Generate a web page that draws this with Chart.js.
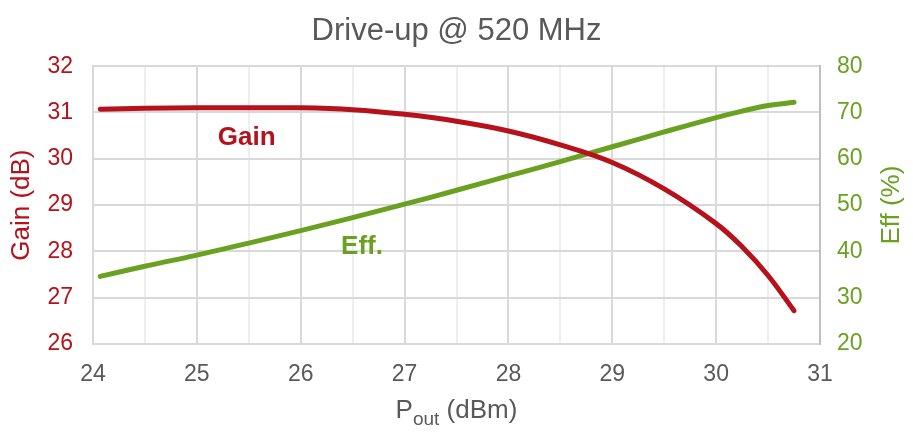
<!DOCTYPE html>
<html>
<head>
<meta charset="utf-8">
<script src="https://cdn.jsdelivr.net/npm/chart.js@4"></script>
<style>
  html, body { margin: 0; padding: 0; background: #fff; }
  #wrap { width: 913px; height: 432px; }
</style>
</head>
<body>
<div id="wrap"><canvas id="chart1"></canvas></div>
<script>
  const pout = [24.07, 24.5, 25, 25.5, 26, 26.5, 27, 27.5, 28, 28.5, 29, 29.5, 30, 30.25, 30.5, 30.75];
  const gain = [31.07, 31.09, 31.1, 31.1, 31.1, 31.06, 30.96, 30.81, 30.60, 30.30, 29.92, 29.35, 28.60, 28.10, 27.48, 26.72];
  const eff = [34.6, 36.8, 39.2, 41.8, 44.5, 47.3, 50.2, 53.2, 56.3, 59.4, 62.6, 65.8, 68.9, 70.3, 71.5, 72.2];

  const RED = '#B5121B';
  const GREEN = '#6AA121';
  const GREY = '#595959';
  const FONT = "'Liberation Sans', Arial, sans-serif";

  // series labels, x title with subscript, right title read bottom-up
  const labelsPlugin = {
    id: 'labels',
    afterDraw(chart) {
      const c = chart.ctx;
      const x = chart.scales.x, yg = chart.scales.y, ye = chart.scales.y2;
      const area = chart.chartArea;
      c.save();
      c.textAlign = 'center';
      c.textBaseline = 'middle';
      c.font = 'bold 26px ' + FONT;
      c.fillStyle = RED;
      c.fillText('Gain', x.getPixelForValue(25.48), yg.getPixelForValue(30.45));
      c.fillStyle = GREEN;
      c.fillText('Eff.', x.getPixelForValue(26.59), ye.getPixelForValue(41.0));

      // Eff (%) on the right, rotated like the left title
      c.save();
      c.translate(892, (area.top + area.bottom) / 2);
      c.rotate(-Math.PI / 2);
      c.font = '26px ' + FONT;
      c.fillText('Eff (%)', 0, 0);
      c.restore();

      // P_out (dBm)
      c.fillStyle = GREY;
      c.textAlign = 'left';
      c.textBaseline = 'alphabetic';
      const big = '26px ' + FONT, small = '19px ' + FONT;
      c.font = big; const wP = c.measureText('P').width;
      c.font = small; const wS = c.measureText('out').width;
      c.font = big; const wR = c.measureText(' (dBm)').width;
      let cx = (area.left + area.right) / 2 - (wP + wS + wR) / 2;
      const base = 418;
      c.font = big; c.fillText('P', cx, base); cx += wP;
      c.font = small; c.fillText('out', cx, base + 7); cx += wS;
      c.font = big; c.fillText(' (dBm)', cx, base);
      c.restore();
    }
  };

  const ctx = document.getElementById('chart1').getContext('2d');

  const chart1 = new Chart(ctx, {
    type: 'line',
    data: {
      labels: pout,
      datasets: [{
        label: 'Gain',
        data: pout.map((p, i) => ({ x: p, y: gain[i] })),
        borderColor: RED,
        borderWidth: 5,
        borderCapStyle: 'round',
        pointRadius: 0,
        tension: 0.4,
        yAxisID: 'y'
      }, {
        label: 'Eff.',
        data: pout.map((p, i) => ({ x: p, y: eff[i] })),
        borderColor: GREEN,
        borderWidth: 5,
        borderCapStyle: 'round',
        pointRadius: 0,
        tension: 0.4,
        yAxisID: 'y2'
      }]
    },
    options: {
      responsive: true,
      maintainAspectRatio: false,
      animation: false,
      layout: { padding: 0 },
      plugins: {
        legend: { display: false },
        tooltip: { enabled: false },
        title: {
          display: true,
          text: 'Drive-up @ 520 MHz',
          color: GREY,
          font: { family: FONT, size: 31, weight: 'normal' },
          padding: { top: 13, bottom: 16 }
        }
      },
      scales: {
        x: {
          type: 'linear',
          min: 24,
          max: 31,
          afterFit(s) { s.height = 88; },
          ticks: {
            stepSize: 0.5,
            color: GREY,
            padding: 17,
            maxRotation: 0,
            autoSkip: false,
            font: { family: FONT, size: 23 },
            callback: v => Number.isInteger(v) ? v : ''
          },
          grid: {
            drawTicks: false,
            color: c => Number.isInteger(c.tick.value) ? '#D9D9D9' : '#EEEEEE',
            lineWidth: 2
          },
          border: { color: '#D9D9D9', width: 2 }
        },
        y: {
          position: 'left',
          min: 26,
          max: 32,
          afterFit(s) { s.width = 93; },
          ticks: {
            stepSize: 1,
            color: RED,
            padding: 20,
            font: { family: FONT, size: 23 }
          },
          grid: { drawTicks: false, color: '#D9D9D9', lineWidth: 2 },
          border: { color: '#D9D9D9', width: 2 },
          title: {
            display: true,
            text: 'Gain (dB)',
            color: RED,
            font: { family: FONT, size: 26 },
            padding: { top: 6, bottom: 0 }
          }
        },
        y2: {
          position: 'right',
          min: 20,
          max: 80,
          afterFit(s) { s.width = 93; },
          ticks: {
            stepSize: 10,
            color: GREEN,
            padding: 17,
            font: { family: FONT, size: 23 }
          },
          grid: { display: false, drawTicks: false },
          border: { color: '#BFBFBF', width: 2 }
        }
      }
    },
    plugins: [labelsPlugin]
  });
</script>
</body>
</html>
